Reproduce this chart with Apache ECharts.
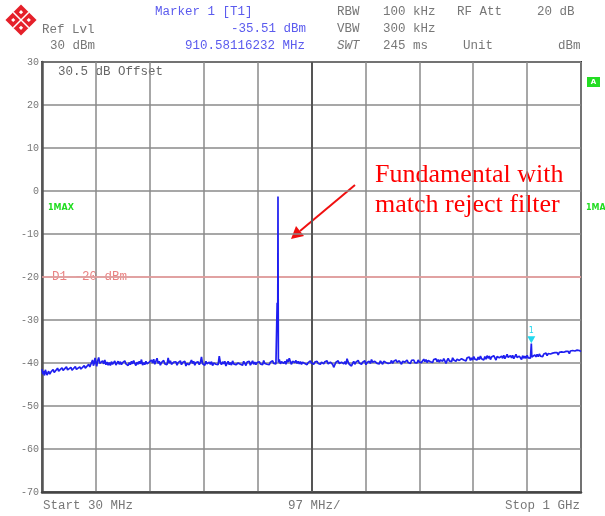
<!DOCTYPE html>
<html><head><meta charset="utf-8">
<script src="https://cdn.jsdelivr.net/npm/echarts@6/dist/echarts.min.js"></script>
<style>html,body{margin:0;padding:0;background:#fff}#c{width:605px;height:516px}</style>
</head><body><div id="c"></div>
<script>
// ---- data ----
const startMHz = 30;
const stopMHz = 1000;
const divMHz = 97;
const yTicks = [-70, -60, -50, -40, -30, -20, -10, 0, 10, 20, 30];
const displayLineDbm = -20;
const marker = [910.58116232, -35.51];
// trace: [frequency MHz, level dBm]
const trace = [[30,-41.4],[31.5,-42.6],[33,-41.9],[34.5,-42.9],[36,-41.6],[39,-42.8],[42,-41.9],[44,-42.6],[46,-42.1],[50,-41.5],[52,-42.2],[54,-41.8],[58,-41.2],[60,-41.9],[62,-41.5],[66,-41.1],[68,-41.7],[70,-41.3],[74,-40.9],[76,-41.6],[78,-41.2],[82,-41.0],[84,-41.7],[86,-41.3],[90,-40.8],[92,-41.5],[94,-41.1],[98,-40.9],[100,-41.4],[102,-41.0],[106,-40.6],[108,-41.2],[110,-40.9],[114,-40.3],[116,-40.9],[118,-40.5],[121,-39.3],[122.5,-40.6],[124,-40.1],[125.5,-38.8],[127,-39.9],[128.5,-40.8],[130,-39.6],[132,-38.7],[134,-40.1],[137,-40.5],[139,-39.5],[141,-40.2],[143,-39.3],[145,-40.4],[147,-39.8],[149,-40.5],[151,-39.9],[153,-40.6],[155,-39.7],[157,-40.3],[159,-40.0],[161,-39.5],[163,-40.5],[165,-40.1],[167,-39.6],[169,-40.3],[171,-39.7],[173,-40.4],[175,-39.9],[177,-40.3],[179,-39.5],[181,-40.2],[183,-39.8],[185,-40.6],[187,-39.9],[189,-40.4],[191,-39.6],[193,-40.2],[195,-39.4],[197,-40.1],[199,-40.6],[201,-39.8],[203,-40.3],[205,-39.6],[207,-40.2],[209,-39.2],[211,-40.5],[213,-39.9],[215,-40.4],[217,-39.6],[219,-40.2],[221,-40.6],[223,-39.8],[225,-40.2],[227,-39.3],[229,-40.0],[231,-39.1],[233,-40.3],[235,-39.6],[237,-38.9],[239,-40.1],[241,-39.6],[243,-40.5],[245,-39.9],[247,-40.3],[249,-39.4],[251,-40.2],[253,-39.8],[255,-40.4],[257,-38.8],[259,-40.0],[261,-39.5],[263,-40.3],[265,-40.7],[267,-39.8],[269,-40.2],[271,-39.7],[273,-40.5],[275,-39.9],[277,-40.3],[279,-39.5],[281,-40.4],[283,-39.9],[285,-40.2],[287,-39.6],[289,-40.7],[291,-40.1],[293,-39.7],[295,-40.4],[297,-40.0],[299,-39.3],[301,-40.1],[303,-39.6],[305,-40.5],[307,-39.9],[309,-40.3],[311,-39.7],[313,-40.4],[315,-39.9],[317,-38.6],[319,-40.2],[321,-39.8],[323,-40.5],[325,-39.6],[327,-40.2],[329,-40.6],[331,-39.8],[333,-40.3],[335,-39.7],[337,-40.6],[339,-40.0],[341,-39.6],[343,-40.3],[345,-39.9],[347,-40.4],[349,-38.4],[351,-39.9],[353,-40.4],[355,-39.7],[357,-40.2],[359,-39.6],[361,-40.7],[363,-40.1],[365,-39.6],[367,-40.4],[369,-39.9],[371,-40.5],[373,-39.5],[375,-40.2],[377,-39.8],[379,-40.4],[381,-40.8],[383,-40.0],[385,-39.7],[387,-40.3],[389,-39.9],[391,-40.5],[393,-39.6],[395,-40.1],[397,-40.6],[399,-39.8],[401,-40.2],[403,-39.6],[405,-40.5],[407,-40.0],[409,-39.5],[411,-40.3],[413,-39.8],[415,-40.4],[417,-39.9],[419,-40.3],[421,-39.7],[423,-40.2],[425,-39.9],[427,-40.4],[429,-39.4],[431,-40.1],[433,-39.7],[435,-40.3],[437,-39.9],[439,-40.4],[441,-39.8],[443,-40.2],[445,-39.5],[447,-40.1],[449,-39.8],[451,-40.2],[452.5,-39.9],[453.2,-26.0],[453.8,-27.5],[454.3,-28.5],[454.7,-1.3],[455.0,-23.0],[455.4,-39.9],[457,-39.2],[459,-40.2],[461,-39.7],[463,-39.3],[465,-40.1],[467,-39.6],[469,-40.3],[471,-39.2],[473,-39.8],[475,-38.9],[477,-39.7],[479,-40.3],[481,-39.6],[483,-39.2],[485,-39.9],[487,-39.4],[489,-40.1],[491,-39.6],[493,-40.2],[495,-39.7],[497,-40.3],[499,-39.8],[501,-39.4],[503,-40.1],[505,-39.7],[507,-40.4],[509,-39.9],[511,-40.2],[513,-39.5],[515,-40.0],[517,-39.6],[519,-40.3],[521,-39.8],[523,-40.2],[525,-39.6],[527,-40.1],[529,-39.7],[531,-40.3],[533,-39.8],[535,-39.4],[537,-40.2],[539,-39.7],[541,-40.1],[543,-39.5],[545,-40.2],[547,-40.6],[549,-39.8],[551,-39.4],[553,-40.3],[555,-41.0],[557,-40.4],[559,-39.8],[561,-40.2],[563,-39.5],[565,-40.1],[567,-40.5],[569,-39.8],[571,-39.4],[573,-40.2],[575,-39.7],[577,-40.3],[579,-39.0],[581,-39.8],[583,-40.3],[585,-39.9],[587,-40.7],[589,-40.1],[591,-39.6],[593,-40.3],[595,-39.8],[597,-40.2],[599,-39.4],[601,-40.0],[603,-39.6],[605,-40.3],[607,-39.8],[609,-40.2],[611,-39.5],[613,-40.4],[615,-39.9],[617,-40.2],[619,-39.6],[621,-40.1],[623,-39.2],[625,-39.8],[627,-40.2],[629,-39.6],[631,-39.3],[633,-40.1],[635,-39.7],[637,-40.2],[639,-39.5],[641,-39.9],[643,-40.3],[645,-39.6],[647,-39.2],[649,-39.9],[651,-39.5],[653,-40.1],[655,-39.7],[657,-40.0],[659,-39.4],[661,-40.1],[663,-39.6],[665,-39.9],[667,-39.3],[669,-39.8],[671,-40.1],[673,-39.5],[675,-39.9],[677,-40.3],[679,-39.6],[681,-39.2],[683,-39.8],[685,-40.0],[687,-39.3],[689,-39.9],[691,-39.5],[693,-40.1],[695,-39.4],[697,-39.8],[699,-39.3],[701,-39.9],[703,-39.5],[705,-40.0],[707,-39.3],[709,-39.8],[711,-39.4],[713,-39.9],[715,-39.5],[717,-39.1],[719,-39.7],[721,-39.2],[723,-39.9],[725,-39.4],[727,-39.0],[729,-39.7],[731,-39.3],[733,-39.9],[735,-39.2],[737,-39.6],[739,-39.0],[741,-39.7],[743,-39.2],[745,-39.8],[747,-39.3],[749,-38.9],[751,-39.6],[753,-39.0],[755,-39.5],[757,-40.1],[759,-39.4],[761,-38.9],[763,-39.5],[765,-39.1],[767,-39.7],[769,-38.8],[771,-39.3],[773,-38.9],[775,-39.6],[777,-39.1],[779,-38.7],[781,-39.4],[783,-39.8],[785,-39.0],[787,-38.6],[789,-39.3],[791,-38.9],[793,-39.5],[795,-38.8],[797,-39.2],[799,-38.6],[801,-39.4],[803,-38.8],[805,-39.3],[807,-38.5],[809,-39.1],[811,-38.7],[813,-39.3],[815,-38.6],[817,-39.2],[819,-38.4],[821,-39.0],[823,-38.6],[825,-39.3],[827,-38.5],[829,-39.1],[831,-38.3],[833,-38.9],[835,-38.4],[837,-39.2],[839,-38.6],[841,-39.0],[843,-38.3],[845,-38.8],[847,-39.3],[849,-38.5],[851,-38.1],[853,-38.8],[855,-39.2],[857,-38.4],[859,-38.9],[861,-38.2],[863,-39.0],[865,-38.5],[867,-38.0],[869,-38.7],[871,-39.1],[873,-38.3],[875,-38.8],[877,-38.2],[879,-39.0],[881,-38.5],[883,-38.0],[885,-38.7],[887,-39.1],[889,-38.4],[891,-38.8],[893,-39.2],[895,-38.3],[897,-38.9],[899,-38.4],[901,-38.9],[903,-38.2],[905,-38.8],[907,-38.4],[909,-38.9],[910.6,-35.5],[911.5,-38.6],[913,-38.2],[915,-38.8],[917,-38.1],[919,-38.6],[921,-38.0],[923,-38.5],[925,-37.9],[927,-38.4],[929,-38.0],[931,-38.5],[933,-37.9],[935,-38.2],[937,-37.7],[939,-38.3],[941,-37.8],[943,-38.2],[945,-37.9],[947,-38.3],[949,-37.7],[951,-38.1],[953,-37.6],[955,-38.0],[957,-37.6],[959,-38.1],[961,-37.5],[963,-37.9],[965,-37.4],[967,-37.8],[969,-37.5],[971,-37.9],[973,-37.3],[975,-37.7],[977,-37.3],[979,-37.8],[981,-37.2],[983,-37.6],[985,-37.1],[987,-37.5],[989,-37.2],[991,-37.6],[993,-37.0],[995,-37.4],[997,-37.1],[1000,-37.3]];
const annotationLines = ['Fundamental with', 'match reject filter'];

// ---- chart ----
const chart = echarts.init(document.getElementById('c'), null, {renderer: 'canvas'});
const mono = 'Liberation Mono';
const gray = '#777';
const blue = '#5b5bee';
const span = stopMHz - startMHz;
const traceData = trace.map(p => [p[0] - startMHz, p[1]]);

function txt(text, x, y, fill, size, extra) {
  return {type: 'text', x: x, y: y, style: Object.assign({
    text: text, fill: fill, font: (size || 12.5) + 'px "' + mono + '"', verticalAlign: 'middle'
  }, extra || {})};
}

const graphics = [
  // R&S logo
  {type: 'group', x: 21, y: 20, rotation: Math.PI / 4, children: [
    {type: 'rect', shape: {x: -11, y: -11, width: 22, height: 22}, style: {fill: '#e5202a'}},
    {type: 'line', shape: {x1: -11, y1: 0, x2: 11, y2: 0}, style: {stroke: '#fff', lineWidth: 1.5}},
    {type: 'line', shape: {x1: 0, y1: -11, x2: 0, y2: 11}, style: {stroke: '#fff', lineWidth: 1.5}},
    {type: 'rect', shape: {x: -7, y: -7, width: 3, height: 3}, style: {fill: '#fff'}},
    {type: 'rect', shape: {x: 4, y: -7, width: 3, height: 3}, style: {fill: '#fff'}},
    {type: 'rect', shape: {x: -7, y: 4, width: 3, height: 3}, style: {fill: '#fff'}},
    {type: 'rect', shape: {x: 4, y: 4, width: 3, height: 3}, style: {fill: '#fff'}}
  ]},
  txt('Ref Lvl', 42, 30, gray),
  txt('30 dBm', 50, 46, gray),
  txt('Marker 1 [T1]', 155, 12, blue),
  txt('-35.51 dBm', 231, 29, blue),
  txt('910.58116232 MHz', 185, 46, blue),
  txt('RBW', 337, 12, gray), txt('100 kHz', 383, 12, gray),
  txt('RF Att', 457, 12, gray), txt('20 dB', 537, 12, gray),
  txt('VBW', 337, 29, gray), txt('300 kHz', 383, 29, gray),
  txt('SWT', 337, 46, gray, 12.5, {font: 'italic 12.5px "Liberation Mono"'}),
  txt('245 ms', 383, 46, gray),
  txt('Unit', 463, 46, gray), txt('dBm', 558, 46, gray),
  txt('30.5 dB Offset', 58, 72, '#666'),
  txt('D1 -20 dBm', 52, 277, '#e98383'),
  {type: 'text', x: 48, y: 208, style: {text: '1MAX', fill: '#22dd22', font: 'bold 8px "DejaVu Sans"', verticalAlign: 'middle'}},
  {type: 'text', x: 586, y: 208, style: {text: '1MA', fill: '#22dd22', font: 'bold 8px "DejaVu Sans"', verticalAlign: 'middle'}},
  {type: 'rect', shape: {x: 587, y: 77, width: 13, height: 10}, style: {fill: '#22dd22'}},
  {type: 'text', x: 593.5, y: 82, style: {text: 'A', fill: '#fff', font: 'bold 7px "DejaVu Sans"', align: 'center', verticalAlign: 'middle'}},
  txt('Start 30 MHz', 43, 506, gray),
  txt('97 MHz/', 288, 506, gray),
  txt('Stop 1 GHz', 580, 506, gray, 12.5, {align: 'right'}),
  {type: 'text', x: 375, y: 175, style: {text: annotationLines[0], fill: '#f00', font: '26px "Liberation Serif"', verticalAlign: 'middle'}},
  {type: 'text', x: 375, y: 205, style: {text: annotationLines[1], fill: '#f00', font: '26px "Liberation Serif"', verticalAlign: 'middle'}},
  {type: 'line', shape: {x1: 355, y1: 185, x2: 300, y2: 231}, style: {stroke: '#f01010', lineWidth: 2}},
  {type: 'polygon', shape: {points: [[291, 239], [296, 226], [304, 236]]}, style: {fill: '#f01010'}}
];

chart.setOption({
  animation: false,
  backgroundColor: '#fff',
  grid: {left: 42, right: 24, top: 62, bottom: 24, show: true, borderColor: '#333', borderWidth: 2},
  xAxis: {
    type: 'value', min: 0, max: span, interval: divMHz,
    axisLine: {show: true, onZero: false, lineStyle: {color: '#444', width: 2.5}},
    axisTick: {show: false}, axisLabel: {show: false},
    splitLine: {show: true, lineStyle: {color: '#8a8a8a', width: 1.5}}
  },
  yAxis: {
    type: 'value', min: yTicks[0], max: yTicks[yTicks.length - 1], interval: 10,
    axisLine: {show: true, onZero: false, lineStyle: {color: '#555', width: 2.5}},
    axisTick: {show: false},
    axisLabel: {color: '#777', fontFamily: mono, fontSize: 10, margin: 3},
    splitLine: {show: true, lineStyle: {color: '#8a8a8a', width: 1.5}}
  },
  graphic: graphics,
  series: [
    {
      type: 'line', data: traceData, showSymbol: false, symbol: 'none',
      lineStyle: {color: '#1f1ff0', width: 1.7}, z: 5,
      markLine: {
        silent: true, symbol: 'none', label: {show: false},
        data: [
          {yAxis: displayLineDbm, lineStyle: {color: '#f5a0a0', width: 1.5, type: 'solid'}},
          {xAxis: span / 2, lineStyle: {color: '#555', width: 2, type: 'solid'}}
        ]
      },
      markPoint: {
        silent: true,
        data: [{coord: [marker[0] - startMHz, marker[1]], symbol: 'triangle', symbolRotate: 180,
          symbolSize: [8, 7], symbolOffset: [0, -4], itemStyle: {color: '#22d8ee'},
          label: {show: true, formatter: '1', position: 'top', distance: 1, color: '#22d8ee', fontSize: 8, fontFamily: 'DejaVu Sans'}}]
      }
    }
  ]
});
</script>
</body></html>
